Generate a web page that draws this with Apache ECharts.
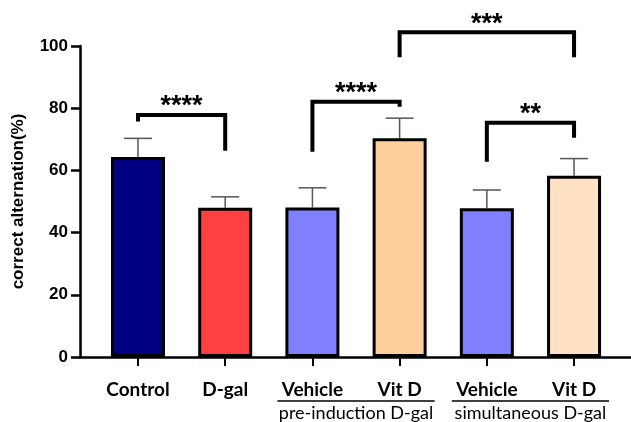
<!DOCTYPE html>
<html><head><meta charset="utf-8">
<script src="https://cdn.jsdelivr.net/npm/echarts@6/dist/echarts.min.js"></script>
<style>html,body{margin:0;padding:0;background:#fff}#c{width:631px;height:422px}</style>
</head><body><div id="c"></div>
<script>
// ---- data ----
const categories = ['Control', 'D-gal', 'Vehicle', 'Vit D', 'Vehicle', 'Vit D'];
const means = [64.3, 48.0, 48.1, 70.3, 47.8, 58.3];
const errors = [6.0, 3.5, 6.3, 6.5, 5.9, 5.5];
const barColors = ['#000080', '#FF4040', '#8080FF', '#FFCF9E', '#8080FF', '#FFE2C4'];
const groupNames = ['pre-induction D-gal', 'simultaneous D-gal'];
const groupFrom = [2, 4];
const groupTo = [3, 5];
const yTicks = [0, 20, 40, 60, 80, 100];
const bracketFrom = [0, 2, 3, 4];
const bracketTo = [1, 3, 5, 5];
const bracketTop = [77.8, 82.1, 104.4, 75.3];
const bracketLeftEnd = [75.7, 66.0, 96.4, 62.8];
const bracketRightEnd = [66.3, 80.5, 96.4, 70.5];
const bracketStars = ['****', '****', '***', '**'];

const chart = echarts.init(document.getElementById('c'), null, {renderer: 'canvas'});
const catIdx = categories.map((c, i) => i);

const option = {
  animation: false,
  backgroundColor: '#fff',
  grid: {left: 80, right: 0, top: 46, bottom: 65, containLabel: false, outerBoundsMode: 'none'},
  xAxis: {
    type: 'value', min: -0.665, max: 5.653,
    splitLine: {show: false},
    axisLine: {show: true, onZero: false, lineStyle: {color: '#000', width: 2.5}},
    axisTick: {show: true, customValues: catIdx, length: 9, lineStyle: {color: '#000', width: 2}},
    axisLabel: {
      customValues: catIdx, margin: 23,
      formatter: v => categories[Math.round(v)],
      color: '#000', fontFamily: 'Lato', fontWeight: 'bold', fontSize: 19
    }
  },
  yAxis: {
    type: 'value', min: 0, max: 100, interval: 20,
    splitLine: {show: false},
    axisLine: {show: true, onZero: false, lineStyle: {color: '#000', width: 2.5}},
    axisTick: {show: true, length: 9, lineStyle: {color: '#000', width: 2.5}},
    axisLabel: {margin: 12, color: '#000', fontFamily: 'Liberation Sans', fontWeight: 'bold', fontSize: 17,
      formatter: v => yTicks.includes(v) ? String(v) : ''},
    name: 'correct alternation(%)', nameLocation: 'middle', nameGap: 53,
    nameTextStyle: {color: '#000', fontFamily: 'Liberation Sans', fontWeight: 'bold', fontSize: 17}
  },
  series: [
    {
      type: 'custom', z: 1, silent: true,
      data: means.map((m, i) => [i, m, errors[i]]),
      renderItem: (params, api) => {
        const x = api.value(0), m = api.value(1), e = api.value(2);
        const p0 = api.coord([x, m]), p1 = api.coord([x, m + e]);
        const st = {stroke: '#555', lineWidth: 1.5};
        return {type: 'group', children: [
          {type: 'line', shape: {x1: p0[0], y1: p0[1], x2: p1[0], y2: p1[1]}, style: st},
          {type: 'line', shape: {x1: p1[0] - 14, y1: p1[1], x2: p1[0] + 14, y2: p1[1]}, style: st}
        ]};
      }
    },
    {
      type: 'bar', z: 2, barWidth: 54,
      data: means.map((m, i) => ({value: [i, m], itemStyle: {color: barColors[i], borderColor: '#000', borderWidth: 3}}))
    },
    {
      type: 'custom', z: 3, silent: true, clip: false,
      data: bracketFrom.map((f, i) => [f, bracketTo[i], bracketTop[i], bracketLeftEnd[i], bracketRightEnd[i], i]),
      renderItem: (params, api) => {
        const f = api.value(0), t = api.value(1), top = api.value(2), le = api.value(3), re = api.value(4);
        const i = api.value(5);
        const pL = api.coord([f, top]), pR = api.coord([t, top]);
        const l = api.coord([f, le]), r = api.coord([t, re]);
        return {type: 'group', children: [
          {type: 'polyline', shape: {points: [l, pL, pR, r]}, style: {stroke: '#000', lineWidth: 4, fill: null, lineJoin: 'miter'}},
          {type: 'text', style: {x: (pL[0] + pR[0]) / 2, y: pL[1] - 8, text: bracketStars[i], fill: '#000',
            font: 'bold 27px "Liberation Sans"', align: 'center', verticalAlign: 'middle'}}
        ]};
      }
    },
    {
      type: 'custom', z: 3, silent: true, clip: false,
      data: groupFrom.map((f, i) => [f, groupTo[i], i]),
      renderItem: (params, api) => {
        const a = api.coord([api.value(0), 0]), b = api.coord([api.value(1), 0]);
        const i = api.value(2);
        return {type: 'group', children: [
          {type: 'line', shape: {x1: a[0] - 35, y1: a[1] + 44, x2: b[0] + 35, y2: b[1] + 44}, style: {stroke: '#000', lineWidth: 1.5}},
          {type: 'text', style: {x: (a[0] + b[0]) / 2, y: a[1] + 56, text: groupNames[i], fill: '#000',
            font: '18px Lato', align: 'center', verticalAlign: 'middle'}}
        ]};
      }
    }
  ]
};
chart.setOption(option);
</script>
</body></html>
